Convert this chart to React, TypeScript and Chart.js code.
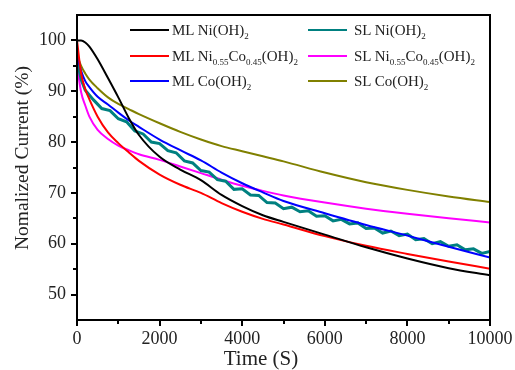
import React, { useEffect, useRef } from 'react';
import { Chart, registerables } from 'chart.js';

Chart.register(...registerables);

const SERIF = '"Liberation Serif", "Times New Roman", serif';

// ---- data ----
const timeGrid = [0, 100, 200, 300, 500, 750, 1000, 1250, 1500, 2000, 2500, 3000, 3500, 4000, 4500, 5000, 6000, 7000, 8000, 9000, 10000];
const mlNiOH2 = [100, 100, 99.6, 98.8, 96.3, 92.6, 88.8, 84.8, 81.4, 77.1, 74.6, 72.5, 69.6, 67.4, 65.6, 64.3, 61.8, 59.3, 57.1, 55.2, 53.8];
const mlNiCoOH2 = [100, 93.5, 90.4, 88.4, 85.0, 81.9, 79.8, 78.0, 76.3, 73.6, 71.6, 70.0, 68.0, 66.3, 64.9, 63.8, 61.5, 59.6, 58.0, 56.5, 55.1];
const mlCoOH2 = [97.2, 94.0, 92.0, 90.8, 88.9, 87.4, 85.8, 84.3, 83.0, 80.5, 78.4, 76.4, 74.0, 71.9, 70.1, 68.4, 66.0, 63.7, 61.6, 59.4, 57.3];
const slNiCoOH2 = [95.2, 89.8, 87.2, 85.0, 82.4, 80.6, 79.3, 78.4, 77.6, 76.5, 75.2, 73.9, 72.6, 71.4, 70.4, 69.5, 68.1, 66.9, 65.9, 65.0, 64.2];
const slCoOH2 = [97.2, 95.0, 93.5, 92.3, 90.6, 88.8, 87.5, 86.5, 85.5, 83.7, 82.0, 80.5, 79.2, 78.2, 77.2, 76.2, 74.0, 72.1, 70.6, 69.3, 68.2];

const slNiOH2Time = [0, 100, 200, 400, 600, 800, 1000, 1200, 1400, 1600, 1800, 2000, 2200, 2400, 2600, 2800, 3000, 3200, 3400, 3600, 3800, 4000, 4200, 4400, 4600, 4800, 5000, 5200, 5400, 5600, 5800, 6000, 6200, 6400, 6600, 6800, 7000, 7200, 7400, 7600, 7800, 8000, 8200, 8400, 8600, 8800, 9000, 9200, 9400, 9600, 9800, 10000];
const slNiOH2 = [96.2, 92.3, 90.2, 88.3, 86.6, 86.2, 84.6, 84.0, 82.2, 81.6, 80.0, 79.7, 78.3, 77.9, 76.3, 75.9, 74.4, 74.1, 72.6, 72.3, 70.7, 70.8, 69.6, 69.5, 68.1, 68.0, 66.9, 67.2, 66.3, 66.5, 65.4, 65.5, 64.5, 64.8, 63.9, 64.1, 63.0, 63.1, 62.1, 62.5, 61.6, 61.9, 60.8, 61.0, 60.0, 60.4, 59.5, 59.8, 58.8, 59.0, 58.1, 58.5];

const xTicks = [0, 2000, 4000, 6000, 8000, 10000];
const xMinorTicks = [1000, 3000, 5000, 7000, 9000];
const yTicks = [50, 60, 70, 80, 90, 100];
const yMinorTicks = [55, 65, 75, 85, 95];

const xTitle = 'Time (S)';
const yTitle = 'Nomalized Current (%)';

const COLORS = {
  mlNi: '#000000',
  mlNiCo: '#ff0000',
  mlCo: '#0000ff',
  slNi: '#008080',
  slNiCo: '#ff00ff',
  slCo: '#808000',
};

function mk(label: string, xs: number[], ys: number[], color: string, width = 2, smooth = true) {
  return {
    label,
    data: xs.map((x, i) => ({ x, y: ys[i] })),
    borderColor: color,
    backgroundColor: color,
    borderWidth: width,
    pointRadius: 0,
    fill: false,
    cubicInterpolationMode: smooth ? 'monotone' : 'default',
    tension: 0,
  };
}

const subStyle: React.CSSProperties = { fontSize: 9, verticalAlign: '-4px', lineHeight: 0 };

function LegendItem(props: { x0: number; x1: number; tx: number; y: number; color: string; children: React.ReactNode }) {
  const { x0, x1, tx, y, color, children } = props;
  return (
    <>
      <div style={{ position: 'absolute', left: x0, top: y - 1, width: x1 - x0, height: 2, background: color }} />
      <div
        style={{
          position: 'absolute',
          left: tx,
          top: y - 10,
          height: 20,
          lineHeight: '20px',
          fontFamily: SERIF,
          fontSize: 15,
          color: '#222',
          whiteSpace: 'nowrap',
        }}
      >
        {children}
      </div>
    </>
  );
}

export default function App() {
  const ref = useRef<HTMLCanvasElement>(null);

  useEffect(() => {
    const canvas = ref.current;
    if (!canvas) return;

    const frame = {
      id: 'frame',
      afterDatasetsDraw(chart: any) {
        const { ctx, chartArea: a, scales } = chart;
        const x = scales.x;
        const y = scales.y;
        ctx.save();
        ctx.strokeStyle = '#000';
        ctx.lineWidth = 2;
        ctx.strokeRect(a.left, a.top, a.right - a.left, a.bottom - a.top);
        ctx.beginPath();
        yTicks.forEach((v) => {
          const py = Math.round(y.getPixelForValue(v));
          ctx.moveTo(a.left - 6, py);
          ctx.lineTo(a.left, py);
        });
        yMinorTicks.forEach((v) => {
          const py = Math.round(y.getPixelForValue(v));
          ctx.moveTo(a.left - 4, py);
          ctx.lineTo(a.left, py);
        });
        xTicks.forEach((v) => {
          const px = Math.round(x.getPixelForValue(v));
          ctx.moveTo(px, a.bottom);
          ctx.lineTo(px, a.bottom + 6);
        });
        xMinorTicks.forEach((v) => {
          const px = Math.round(x.getPixelForValue(v));
          ctx.moveTo(px, a.bottom);
          ctx.lineTo(px, a.bottom + 4);
        });
        ctx.stroke();

        ctx.fillStyle = '#222';
        ctx.textAlign = 'center';
        ctx.textBaseline = 'middle';
        ctx.font = `21px ${SERIF}`;
        ctx.fillText(xTitle, 261, 359);
        ctx.translate(23, 158);
        ctx.rotate(-Math.PI / 2);
        ctx.font = `19.5px ${SERIF}`;
        ctx.fillText(yTitle, 0, 0);
        ctx.restore();
      },
    };

    const chart = new Chart(canvas, {
      type: 'line',
      data: {
        datasets: [
          mk('ML Ni(OH)2', timeGrid, mlNiOH2, COLORS.mlNi),
          mk('ML Ni0.55Co0.45(OH)2', timeGrid, mlNiCoOH2, COLORS.mlNiCo),
          mk('ML Co(OH)2', timeGrid, mlCoOH2, COLORS.mlCo),
          mk('SL Ni(OH)2', slNiOH2Time, slNiOH2, COLORS.slNi, 3, false),
          mk('SL Ni0.55Co0.45(OH)2', timeGrid, slNiCoOH2, COLORS.slNiCo),
          mk('SL Co(OH)2', timeGrid, slCoOH2, COLORS.slCo),
        ] as any,
      },
      options: {
        responsive: false,
        animation: false,
        devicePixelRatio: 1,
        layout: { padding: { left: 0, top: 15, right: 25, bottom: 0 } },
        plugins: { legend: { display: false }, tooltip: { enabled: false } },
        scales: {
          x: {
            type: 'linear',
            min: 0,
            max: 10000,
            afterBuildTicks: (s: any) => {
              s.ticks = xTicks.map((v) => ({ value: v }));
            },
            afterFit: (s: any) => {
              s.height = 50;
              s.paddingLeft = 0;
              s.paddingRight = 0;
            },
            grid: { display: false, drawTicks: false },
            border: { display: false },
            ticks: {
              padding: 8,
              maxRotation: 0,
              autoSkip: false,
              color: '#222',
              font: { family: SERIF, size: 18 },
              callback: (v: any) => String(v),
            },
          },
          y: {
            type: 'linear',
            min: 45,
            max: 105,
            afterBuildTicks: (s: any) => {
              s.ticks = yTicks.map((v) => ({ value: v }));
            },
            afterFit: (s: any) => {
              s.width = 77;
              s.paddingTop = 0;
              s.paddingBottom = 0;
            },
            grid: { display: false, drawTicks: false },
            border: { display: false },
            ticks: {
              padding: 11,
              autoSkip: false,
              color: '#222',
              font: { family: SERIF, size: 18 },
              callback: (v: any) => String(v),
            },
          },
        },
      } as any,
      plugins: [frame],
    });

    return () => chart.destroy();
  }, []);

  return (
    <div style={{ position: 'absolute', left: 0, top: 0, width: 515, height: 370, background: '#fff', overflow: 'hidden' }}>
      <canvas ref={ref} width={515} height={370} style={{ display: 'block', width: 515, height: 370 }} />
      <LegendItem x0={130} x1={169} tx={172} y={30} color={COLORS.mlNi}>
        ML Ni(OH)<sub style={subStyle}>2</sub>
      </LegendItem>
      <LegendItem x0={130} x1={169} tx={172} y={55.5} color={COLORS.mlNiCo}>
        ML Ni<sub style={subStyle}>0.55</sub>Co<sub style={subStyle}>0.45</sub>(OH)<sub style={subStyle}>2</sub>
      </LegendItem>
      <LegendItem x0={130} x1={169} tx={172} y={80.5} color={COLORS.mlCo}>
        ML Co(OH)<sub style={subStyle}>2</sub>
      </LegendItem>
      <LegendItem x0={308} x1={347} tx={354} y={30} color={COLORS.slNi}>
        SL Ni(OH)<sub style={subStyle}>2</sub>
      </LegendItem>
      <LegendItem x0={308} x1={347} tx={354} y={55.5} color={COLORS.slNiCo}>
        SL Ni<sub style={subStyle}>0.55</sub>Co<sub style={subStyle}>0.45</sub>(OH)<sub style={subStyle}>2</sub>
      </LegendItem>
      <LegendItem x0={308} x1={347} tx={354} y={80.5} color={COLORS.slCo}>
        SL Co(OH)<sub style={subStyle}>2</sub>
      </LegendItem>
    </div>
  );
}
